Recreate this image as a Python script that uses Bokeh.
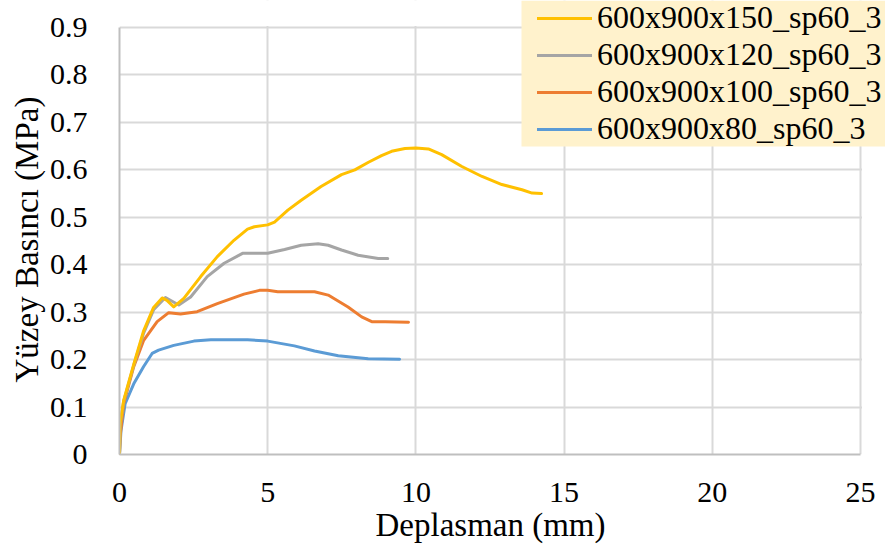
from bokeh.plotting import figure
from bokeh.models import Range1d, FixedTicker, Legend, LegendItem, BoxAnnotation, Title
from bokeh.embed import file_html
from bokeh.resources import INLINE

# --- data ---
x150 = [0, 0.02, 0.14, 0.48, 0.81, 1.15, 1.44, 1.6, 1.83, 2.17, 2.74, 3.3, 3.87, 4.32, 4.55, 5.0, 5.23,
        5.68, 6.13, 6.8, 7.49, 7.94, 8.4, 8.84, 9.18, 9.63, 10.0, 10.42, 10.87, 11.55, 12.23, 12.9, 13.58, 13.92, 14.24]
y150 = [0, 0.065, 0.114, 0.19, 0.26, 0.31, 0.33, 0.325, 0.311, 0.329, 0.375, 0.417, 0.452, 0.475, 0.48, 0.484, 0.49,
        0.515, 0.536, 0.565, 0.59, 0.6, 0.616, 0.63, 0.639, 0.645, 0.646, 0.644, 0.632, 0.607, 0.586, 0.569, 0.558, 0.551, 0.55]

x120 = [0, 0.02, 0.14, 0.48, 0.81, 1.15, 1.55, 2.0, 2.4, 2.96, 3.53, 4.15, 5.0, 5.57, 6.13, 6.7, 7.04, 7.49, 8.05, 8.73, 9.05]
y120 = [0, 0.06, 0.112, 0.188, 0.255, 0.305, 0.331, 0.315, 0.332, 0.375, 0.403, 0.424, 0.424, 0.432, 0.441, 0.444, 0.441, 0.431, 0.42, 0.413, 0.413]

x100 = [0, 0.02, 0.14, 0.48, 0.81, 1.27, 1.66, 2.06, 2.62, 3.3, 4.2, 4.72, 5.0, 5.34, 6.58, 7.04, 7.71, 8.17, 8.51, 8.96, 9.75]
y100 = [0, 0.037, 0.107, 0.185, 0.24, 0.28, 0.299, 0.296, 0.301, 0.318, 0.338, 0.346, 0.346, 0.343, 0.343, 0.336, 0.311, 0.29, 0.28, 0.28, 0.279]

x80 = [0, 0.05, 0.19, 0.48, 0.81, 1.1, 1.32, 1.83, 2.51, 3.08, 4.32, 5.0, 5.9, 6.58, 7.38, 8.39, 9.45]
y80 = [0, 0.05, 0.107, 0.149, 0.185, 0.213, 0.22, 0.23, 0.239, 0.242, 0.242, 0.239, 0.229, 0.218, 0.208, 0.202, 0.201]

series_names = ["600x900x150_sp60_3", "600x900x120_sp60_3", "600x900x100_sp60_3", "600x900x80_sp60_3"]
series_colors = ["#FFC000", "#A5A5A5", "#ED7D31", "#5B9BD5"]

x_ticks = [0, 5, 10, 15, 20, 25]
y_ticks = [0, 0.1, 0.2, 0.3, 0.4, 0.5, 0.6, 0.7, 0.8, 0.9]
y_tick_labels = ["0", "0.1", "0.2", "0.3", "0.4", "0.5", "0.6", "0.7", "0.8", "0.9"]
x_min, x_max = 0, 25
y_min, y_max = 0, 0.9
x_title = "Deplasman (mm)"
y_title = "Yüzey Basıncı (MPa)"

# --- layout (canvas pixels) ---
W, H = 885, 557
AX_LEFT, AX_RIGHT, AX_TOP, AX_BOTTOM = 119, 860, 27, 454   # where the visible axes end
# The frame is extended up to the canvas top/right so that the legend (which is
# clipped to the frame) can sit in the top-right corner like in the reference.
x_end = x_max * (W - AX_LEFT) / (AX_RIGHT - AX_LEFT)
y_end = y_max * AX_BOTTOM / (AX_BOTTOM - AX_TOP)

FONT = "Liberation Serif"

p = figure(width=W, height=H, output_backend="svg", toolbar_location=None,
           x_range=Range1d(x_min, x_end), y_range=Range1d(y_min, y_end),
           min_border_left=AX_LEFT, min_border_right=0, min_border_top=0,
           min_border_bottom=H - AX_BOTTOM)
p.outline_line_color = None
p.background_fill_color = "white"

p.xaxis.ticker = FixedTicker(ticks=x_ticks)
p.yaxis.ticker = FixedTicker(ticks=y_ticks)
p.xaxis.bounds = (x_min, x_max)
p.yaxis.bounds = (y_min, y_max)
p.yaxis.major_label_overrides = {t: l for t, l in zip(y_ticks, y_tick_labels)}

for ax in (p.xaxis[0], p.yaxis[0]):
    ax.axis_line_color = "#bfbfbf"
    ax.axis_line_width = 2
    ax.major_tick_line_color = None
    ax.minor_tick_line_color = None
    ax.major_label_text_font = FONT
    ax.major_label_text_font_size = "30px"
    ax.major_label_text_color = "#000000"

p.xaxis.major_label_standoff = 22
p.yaxis.major_label_standoff = 26

p.xgrid.grid_line_color = "#d9d9d9"
p.ygrid.grid_line_color = "#d9d9d9"
p.xgrid.grid_line_width = 2
p.ygrid.grid_line_width = 2

# white covers for the grid lines beyond the visible axes (underlay, after grid)
cover_top = BoxAnnotation(left=AX_LEFT - 2, right=521, top=0, bottom=AX_TOP - 1.5,
                          left_units="canvas", right_units="canvas", top_units="canvas", bottom_units="canvas",
                          fill_color="white", fill_alpha=1.0, line_color=None, level="underlay")
cover_right = BoxAnnotation(left=AX_RIGHT + 1.5, right=W, top=0, bottom=AX_BOTTOM + 2,
                            left_units="canvas", right_units="canvas", top_units="canvas", bottom_units="canvas",
                            fill_color="white", fill_alpha=1.0, line_color=None, level="underlay")
p.add_layout(cover_top)
p.add_layout(cover_right)

# axis titles as side-panel titles, placed to sit centred on the visible axes
p.add_layout(Title(text=x_title, align="left", offset=256, standoff=4, vertical_align="top",
                   text_font=FONT, text_font_size="33px", text_font_style="normal",
                   text_color="#000000"), "below")
p.add_layout(Title(text=y_title, align="left", offset=72, standoff=3,
                   text_font=FONT, text_font_size="33px", text_font_style="normal",
                   text_color="#000000"), "left")

xs = [x150, x120, x100, x80]
ys = [y150, y120, y100, y80]
renderers = {}
for i in [3, 2, 1, 0]:
    r = p.line(xs[i], ys[i], line_color=series_colors[i], line_width=3, line_join="round", line_cap="round")
    renderers[i] = r

# legend background box (canvas pixels)
legend_box = BoxAnnotation(left=521, right=W, top=0, bottom=146,
                           left_units="canvas", right_units="canvas",
                           top_units="canvas", bottom_units="canvas",
                           fill_color="#FFF2CC", fill_alpha=1.0, line_color=None)
p.add_layout(legend_box)

items = [LegendItem(label=series_names[i], renderers=[renderers[i]]) for i in range(4)]
legend = Legend(items=items, location=(537 - AX_LEFT, AX_BOTTOM - 147),
                background_fill_alpha=0.0,
                border_line_color=None, padding=0, spacing=0, margin=0,
                label_height=36, glyph_height=20, glyph_width=55, label_standoff=5,
                label_text_font=FONT, label_text_font_size="32px", label_text_color="#000000")
p.add_layout(legend, "center")

open("out.html", "w").write(file_html(p, INLINE))
